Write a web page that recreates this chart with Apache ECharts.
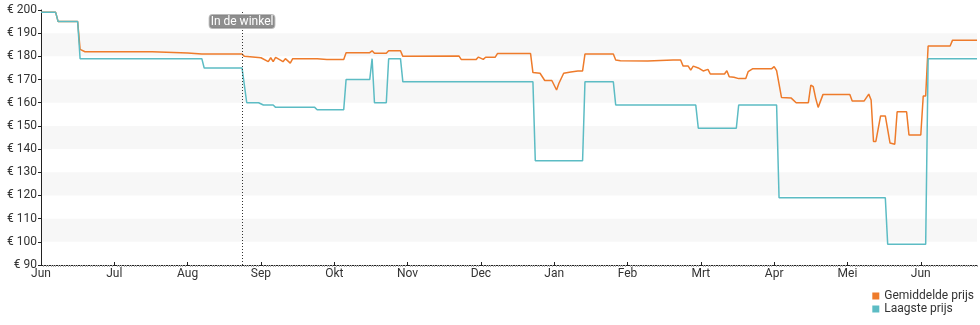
<!DOCTYPE html>
<html>
<head>
<meta charset="utf-8">
<script src="https://cdn.jsdelivr.net/npm/echarts@6/dist/echarts.min.js"></script>
<style>
  html, body { margin: 0; padding: 0; background: #fff; }
  #chart { width: 980px; height: 325px; }
</style>
</head>
<body>
<div id="chart"></div>
<script>
// Month labels along the time axis (each month gets an equal slot)
const monthLabels = ['Jun', 'Jul', 'Aug', 'Sep', 'Okt', 'Nov', 'Dec', 'Jan', 'Feb', 'Mrt', 'Apr', 'Mei', 'Jun'];
const axisStart = '2023-06-01';
const axisEnd = '2024-06-24';

// Price axis
const priceMin = 90;
const priceMax = 200;
const priceStep = 10;

// Date the product appeared in the shop
const storeDate = '2023-08-24';
const storeLabel = 'In de winkel';
const storeLabelPrice = 195;

const seriesNames = ['Gemiddelde prijs', 'Laagste prijs'];

// Lowest price (change points)
const lowDates = [
  '2023-06-01', '2023-06-07', '2023-06-08', '2023-06-16', '2023-06-17', '2023-08-07', '2023-08-08',
  '2023-08-24', '2023-08-26', '2023-08-31', '2023-09-02', '2023-09-06', '2023-09-07', '2023-09-23',
  '2023-09-24', '2023-10-05', '2023-10-06', '2023-10-16', '2023-10-17', '2023-10-18', '2023-10-23',
  '2023-10-24', '2023-10-29', '2023-10-30', '2023-12-23', '2023-12-24', '2024-01-13', '2024-01-14',
  '2024-01-26', '2024-01-27', '2024-02-28', '2024-02-29', '2024-03-16', '2024-03-17', '2024-04-02',
  '2024-04-03', '2024-05-17', '2024-05-18', '2024-06-03', '2024-06-04', '2024-06-24'
];
const lowPrices = [
  199, 199, 195, 195, 179, 179, 175,
  175, 160, 160, 159, 159, 158, 158,
  157, 157, 170, 170, 179, 160, 160,
  179, 179, 169, 169, 135, 135, 169,
  169, 159, 159, 149, 149, 159, 159,
  119, 119, 99, 99, 179, 179
];

// Average price (change points)
const avgDates = [
  '2023-06-01', '2023-06-07', '2023-06-08', '2023-06-16', '2023-06-17', '2023-06-19', '2023-07-17',
  '2023-08-01', '2023-08-07', '2023-08-24', '2023-08-25', '2023-09-01', '2023-09-04', '2023-09-05',
  '2023-09-06', '2023-09-07', '2023-09-09', '2023-09-10', '2023-09-11', '2023-09-13', '2023-09-14',
  '2023-09-24', '2023-09-28', '2023-10-05', '2023-10-06', '2023-10-16', '2023-10-17', '2023-10-18',
  '2023-10-23', '2023-10-24', '2023-10-29', '2023-10-30', '2023-11-22', '2023-11-23', '2023-11-29',
  '2023-11-30', '2023-12-02', '2023-12-03', '2023-12-07', '2023-12-08', '2023-12-22', '2023-12-23',
  '2023-12-26', '2023-12-28', '2023-12-31', '2024-01-02', '2024-01-03', '2024-01-05', '2024-01-08',
  '2024-01-11', '2024-01-13', '2024-01-14', '2024-01-26', '2024-01-27', '2024-01-29', '2024-02-09',
  '2024-02-19', '2024-02-22', '2024-02-23', '2024-02-25', '2024-02-26', '2024-02-27', '2024-02-29',
  '2024-03-02', '2024-03-04', '2024-03-05', '2024-03-11', '2024-03-12', '2024-03-13', '2024-03-15',
  '2024-03-17', '2024-03-20', '2024-03-21', '2024-03-23', '2024-03-31', '2024-04-01', '2024-04-02',
  '2024-04-04', '2024-04-08', '2024-04-10', '2024-04-15', '2024-04-16', '2024-04-17', '2024-04-18',
  '2024-04-19', '2024-04-21', '2024-05-02', '2024-05-03', '2024-05-08', '2024-05-10', '2024-05-11',
  '2024-05-12', '2024-05-13', '2024-05-15', '2024-05-17', '2024-05-19', '2024-05-21', '2024-05-22',
  '2024-05-26', '2024-05-27', '2024-06-01', '2024-06-02', '2024-06-03', '2024-06-04', '2024-06-13',
  '2024-06-14', '2024-06-24'
];
const avgPrices = [
  199, 199, 195, 195, 183, 182, 182,
  181.5, 181, 181, 180, 179.4, 177.7, 179.4,
  177.7, 179.6, 178.4, 177.7, 179, 177.1, 179,
  179, 178.7, 178.7, 181.6, 181.6, 182.4, 181.3,
  181.3, 182.4, 182.4, 180, 180.2, 178.6, 178.6,
  179.7, 178.7, 179.6, 179.6, 181.2, 181.2, 173,
  172.7, 169.6, 169.6, 165.5, 168.4, 172.7, 173.3,
  173.7, 173.7, 181, 181, 178.4, 178.1, 178,
  178.4, 178.4, 175.8, 175.8, 174.1, 175.8, 175,
  173.7, 174.4, 172.4, 172.4, 173.8, 171.2, 171,
  170.4, 170.5, 173.4, 174.7, 174.7, 175.6, 173.8,
  162.3, 162, 160, 160, 167.6, 166.9, 161.9,
  158, 163.6, 163.6, 160.7, 160.7, 163.7, 161.2,
  143.3, 143.3, 154.3, 154.3, 142.6, 142.1, 156.1,
  156.1, 146.1, 146.1, 162.9, 162.9, 184.5, 184.5,
  187, 187
];

// Position of a date on the month axis: every month occupies one unit
function monthPos(s) {
  const [y, m, d] = s.split('-').map(Number);
  const [y0, m0] = axisStart.split('-').map(Number);
  const daysInMonth = new Date(y, m, 0).getDate();
  return (y - y0) * 12 + (m - m0) + (d - 1) / daysInMonth;
}

const monthTicks = monthLabels.map((_, i) => i);
const avgData = avgDates.map((d, i) => [monthPos(d), avgPrices[i]]);
const lowData = lowDates.map((d, i) => [monthPos(d), lowPrices[i]]);
const xMax = monthPos(axisEnd);

const chart = echarts.init(document.getElementById('chart'), null, { renderer: 'canvas' });

chart.setOption({
  animation: false,
  textStyle: { fontFamily: 'Roboto' },
  grid: { left: 41, right: 3, top: 10, bottom: 60, containLabel: false },
  legend: {
    data: seriesNames,
    orient: 'vertical',
    align: 'left',
    right: 6,
    top: 290,
    padding: 0,
    itemWidth: 7,
    itemHeight: 7,
    itemGap: 1,
    icon: 'rect',
    textStyle: { fontSize: 12, color: '#333', fontFamily: 'Roboto' }
  },
  xAxis: [
    {
      type: 'value',
      min: 0,
      max: xMax,
      interval: 1,
      axisLine: { show: true, lineStyle: { color: '#222', width: 1 } },
      axisTick: { show: true, inside: true, length: 3, customValues: monthTicks, lineStyle: { color: '#222' } },
      axisLabel: {
        customValues: monthTicks,
        formatter: v => monthLabels[Math.round(v)] || '',
        color: '#333',
        fontSize: 12,
        margin: 3
      },
      splitLine: { show: false }
    },
    {
      // daily minor ticks under the axis line
      type: 'value',
      min: 0,
      max: xMax,
      interval: 1,
      position: 'bottom',
      axisLine: { show: false },
      axisTick: { show: false },
      axisLabel: { show: false },
      splitLine: { show: false },
      minorTick: { show: true, splitNumber: 30, length: 2, lineStyle: { color: '#aaa', width: 1 } }
    }
  ],
  yAxis: {
    type: 'value',
    min: priceMin,
    max: priceMax,
    interval: priceStep,
    axisLine: { show: true, lineStyle: { color: '#222', width: 1 } },
    axisTick: { show: true, length: 3, lineStyle: { color: '#222' } },
    axisLabel: { formatter: '€ {value}', color: '#333', fontSize: 12, margin: 4 },
    splitLine: { show: false },
    splitArea: { show: true, areaStyle: { color: ['rgba(255,255,255,0)', '#f7f7f7'] } }
  },
  series: [
    {
      name: seriesNames[0],
      type: 'line',
      data: avgData,
      showSymbol: false,
      symbol: 'none',
      color: '#ee7b2b',
      lineStyle: { color: '#ee7b2b', width: 1.5 },
      z: 2,
      markLine: {
        silent: true,
        symbol: 'none',
        label: { show: false },
        lineStyle: { color: '#333', type: [1, 2], width: 1 },
        data: [{ xAxis: monthPos(storeDate) }]
      },
      markPoint: {
        silent: true,
        symbol: 'rect',
        symbolSize: 1,
        itemStyle: { color: 'rgba(0,0,0,0)' },
        label: {
          show: true,
          position: 'inside',
          formatter: storeLabel,
          color: '#fff',
          fontSize: 12,
          backgroundColor: 'rgba(130,130,130,0.9)',
          borderColor: '#bbb',
          borderWidth: 1,
          borderRadius: 3,
          padding: [1, 1, 0, 1]
        },
        data: [{ coord: [monthPos(storeDate), storeLabelPrice] }]
      }
    },
    {
      name: seriesNames[1],
      type: 'line',
      data: lowData,
      showSymbol: false,
      symbol: 'none',
      color: '#5cbcc4',
      lineStyle: { color: '#5cbcc4', width: 1.5 },
      z: 3
    }
  ]
});
</script>
</body>
</html>
